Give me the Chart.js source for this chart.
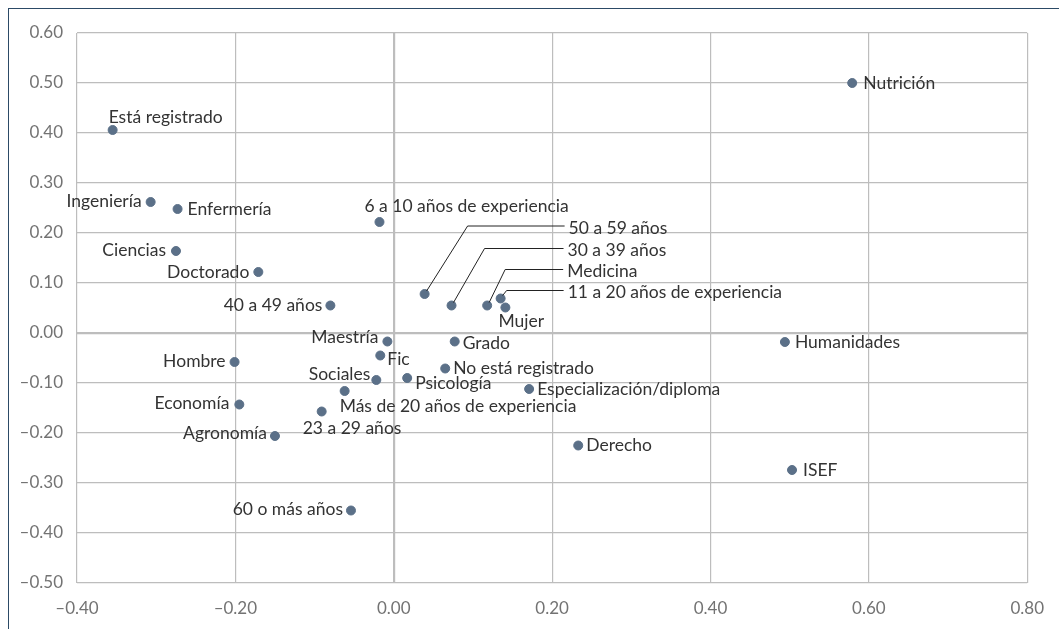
<!DOCTYPE html>
<html>
<head>
<meta charset="utf-8">
<script src="https://cdn.jsdelivr.net/npm/chart.js@4.4.1/dist/chart.umd.min.js"></script>
<style>
  html, body { margin: 0; padding: 0; background: #fff; }
  #wrap { position: relative; width: 1059px; height: 629px; overflow: hidden; }
  #frame { position: absolute; left: 8px; top: 8px; width: 1200px; height: 800px;
           border-left: 1.5px solid #2c4a66; border-top: 1.5px solid #2c4a66; }
  canvas { position: absolute; left: 0; top: 0; }
</style>
</head>
<body>
<div id="wrap">
  <div id="frame"></div>
  <canvas id="chart" width="1059" height="629"></canvas>
</div>
<script>
// categories and their coordinates (dimension 1, dimension 2)
const names = [
  "Está registrado", "Ingeniería", "Enfermería", "Ciencias", "Doctorado",
  "40 a 49 años", "6 a 10 años de experiencia", "50 a 59 años", "30 a 39 años",
  "Medicina", "11 a 20 años de experiencia", "Mujer", "Nutrición", "Humanidades",
  "ISEF", "Derecho", "Especialización/diploma", "No está registrado", "Grado",
  "Psicología", "Fic", "Maestría", "Sociales", "Hombre", "Economía", "Agronomía",
  "Más de 20 años de experiencia", "23 a 29 años", "60 o más años"
];
const xValues = [
  -0.355, -0.307, -0.273, -0.275, -0.171,
  -0.080, -0.018, 0.039, 0.073,
  0.118, 0.135, 0.141, 0.579, 0.494,
  0.503, 0.233, 0.171, 0.065, 0.077,
  0.017, -0.017, -0.008, -0.022, -0.201, -0.195, -0.150,
  -0.062, -0.091, -0.054
];
const yValues = [
  0.406, 0.262, 0.248, 0.164, 0.122,
  0.055, 0.222, 0.078, 0.055,
  0.055, 0.069, 0.051, 0.500, -0.018,
  -0.274, -0.225, -0.112, -0.071, -0.017,
  -0.090, -0.045, -0.017, -0.094, -0.058, -0.143, -0.206,
  -0.116, -0.157, -0.355
];
const xTicks = [-0.4, -0.2, 0, 0.2, 0.4, 0.6, 0.8];

// label placement: offset from the point in px, text alignment, optional leader elbow
const placement = [
  [-4, -13, "left"], [-9, -1, "right"], [10, 0, "left"], [-10, -1, "right"], [-9, 0, "right"],
  [-8, 0, "right"], [-15, -16, "left"], [144, -66, "left", 43], [116, -55, "left", 33],
  [80, -34, "left", 18], [67, -6, "left", 6], [-7, 14, "left"], [11, 0, "left"], [10, 0, "left"],
  [11, 0, "left"], [8, 0, "left"], [8, 0, "left"], [8, 0, "left"], [8, 2, "left"],
  [8, 5, "left"], [7, 4, "left"], [-9, -4, "right"], [-6, -6, "right"], [-9, -1, "right"], [-10, -1, "right"], [-8, -3, "right"],
  [-5, 15, "left"], [-19, 17, "left"], [-8, -1, "right"]
];

const points = xValues.map((x, i) => ({ x: x, y: yValues[i] }));

const labelPlugin = {
  id: "pointLabels",
  afterDatasetsDraw(chart) {
    const ctx = chart.ctx;
    const meta = chart.getDatasetMeta(0);
    ctx.save();
    ctx.font = "17.5px Lato, 'Open Sans', sans-serif";
    ctx.textBaseline = "middle";
    ctx.fillStyle = "#333";
    meta.data.forEach((pt, i) => {
      const [dx, dy, align, elbow] = placement[i];
      const tx = pt.x + dx, ty = pt.y + dy;
      if (elbow !== undefined) {
        ctx.beginPath();
        ctx.strokeStyle = "#222";
        ctx.lineWidth = 1;
        ctx.moveTo(pt.x + 2, pt.y - 3);
        ctx.lineTo(pt.x + elbow, ty - 2);
        ctx.lineTo(tx - 4, ty - 2);
        ctx.stroke();
      }
      ctx.textAlign = align;
      ctx.fillText(names[i], tx, ty);
    });
    ctx.restore();
  }
};

const fmt = v => {
  const s = Math.abs(v).toFixed(2);
  return v < -1e-9 ? "\u2013" + s : s;
};

new Chart(document.getElementById("chart").getContext("2d"), {
  type: "scatter",
  data: {
    datasets: [{
      data: points,
      backgroundColor: "#5b7088",
      borderColor: "#5b7088",
      pointRadius: 4.5,
      pointHoverRadius: 4.5
    }]
  },
  options: {
    responsive: false,
    animation: false,
    layout: { padding: { top: 33, right: 28, left: 0, bottom: 0 } },
    plugins: { legend: { display: false }, tooltip: { enabled: false } },
    scales: {
      x: {
        min: -0.4, max: 0.8,
        afterBuildTicks: s => { s.ticks = xTicks.map(v => ({ value: v })); },
        afterFit: s => { s.height = 46; },
        grid: {
          drawTicks: false,
          color: "#bdbdbd",
          lineWidth: ctx => (ctx.tick && Math.abs(ctx.tick.value) < 1e-9 ? 2.2 : 1.2)
        },
        border: { display: false },
        ticks: {
          padding: 15,
          color: "#737373",
          font: { family: "Lato, 'Open Sans', sans-serif", size: 17 },
          callback: v => fmt(v)
        }
      },
      y: {
        min: -0.5, max: 0.6,
        afterFit: s => { s.width = 77; },
        grid: {
          drawTicks: false,
          color: "#bdbdbd",
          lineWidth: ctx => (ctx.tick && Math.abs(ctx.tick.value) < 1e-9 ? 2.2 : 1.2)
        },
        border: { display: false },
        ticks: {
          stepSize: 0.1,
          padding: 14,
          color: "#737373",
          font: { family: "Lato, 'Open Sans', sans-serif", size: 17 },
          callback: v => fmt(v)
        }
      }
    }
  },
  plugins: [labelPlugin]
});
</script>
</body>
</html>
